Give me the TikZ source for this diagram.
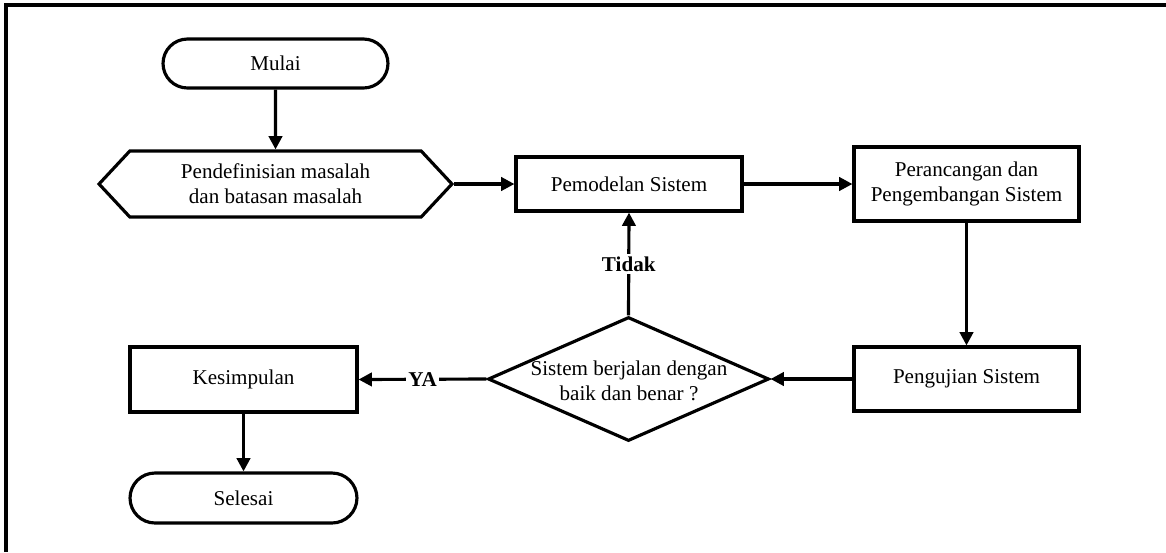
\documentclass[tikz,border=0pt]{standalone}
\usepackage{fontspec}
\setmainfont{Liberation Serif}
\usetikzlibrary{arrows.meta,shapes.geometric,shapes.symbols}
\begin{document}
\begin{tikzpicture}[x=0.02cm,y=-0.02cm,
  font=\fontsize{12}{14.4}\selectfont, line width=1.8pt,
  term/.style={draw, rounded corners=0.49cm, minimum width=4.5cm, minimum height=0.98cm, inner sep=0pt},
  box/.style={draw, rectangle, align=center, inner sep=0pt},
  hexa/.style={draw, signal, signal to=west and east, signal pointer angle=94, align=center, inner sep=0pt},
  decision/.style={draw, diamond, inner sep=0pt},
  arr/.style={-{Triangle[length=7.6pt,width=7.6pt]}},
  lbl/.style={fill=white, inner sep=1.5pt, font=\fontsize{12}{14.4}\selectfont\bfseries}]
\useasboundingbox (0,0) rectangle (1166,552);
\draw (6,552) -- (6,5) -- (1166,5);

\node[term] (mulai) at (275.5,63.5) {Mulai};
\node[hexa, minimum width=7.06cm, minimum height=1.32cm] (def) at (275.5,184) {Pendefinisian masalah\\dan batasan masalah};
\node[box, minimum width=4.52cm, minimum height=1.08cm] (pemo) at (629,184) {Pemodelan Sistem};
\node[box, minimum width=4.5cm, minimum height=1.48cm] (peran) at (966.5,184) {Perancangan dan\\Pengembangan Sistem};
\node[box, minimum width=4.5cm, minimum height=1.28cm] (peng) at (966.5,379) {Pengujian Sistem};
\node[decision, minimum width=5.62cm, minimum height=2.48cm] (dia) at (628.5,379) {};
\node[align=center, inner sep=0pt] (diatext) at (629,381) {Sistem berjalan dengan\\baik dan benar ?};
\node[box, minimum width=4.54cm, minimum height=1.3cm] (kes) at (243.5,379.5) {Kesimpulan};
\node[term, minimum width=4.54cm, minimum height=1.0cm, rounded corners=0.5cm] (sel) at (243.5,498) {Selesai};

\draw[arr] (mulai) -- (def);
\draw[arr] (def.east) -- (pemo.west);
\draw[arr] (pemo) -- (peran);
\draw[arr] (peran) -- (peng);
\draw[arr] (peng.west) -- (dia.east);
\draw[arr] (dia.north) -- node[lbl] {Tidak} (pemo.south);
\draw[arr] (dia.west) -- node[lbl] {YA} (kes.east);
\draw[arr] (kes) -- (sel);
\end{tikzpicture}
\end{document}
